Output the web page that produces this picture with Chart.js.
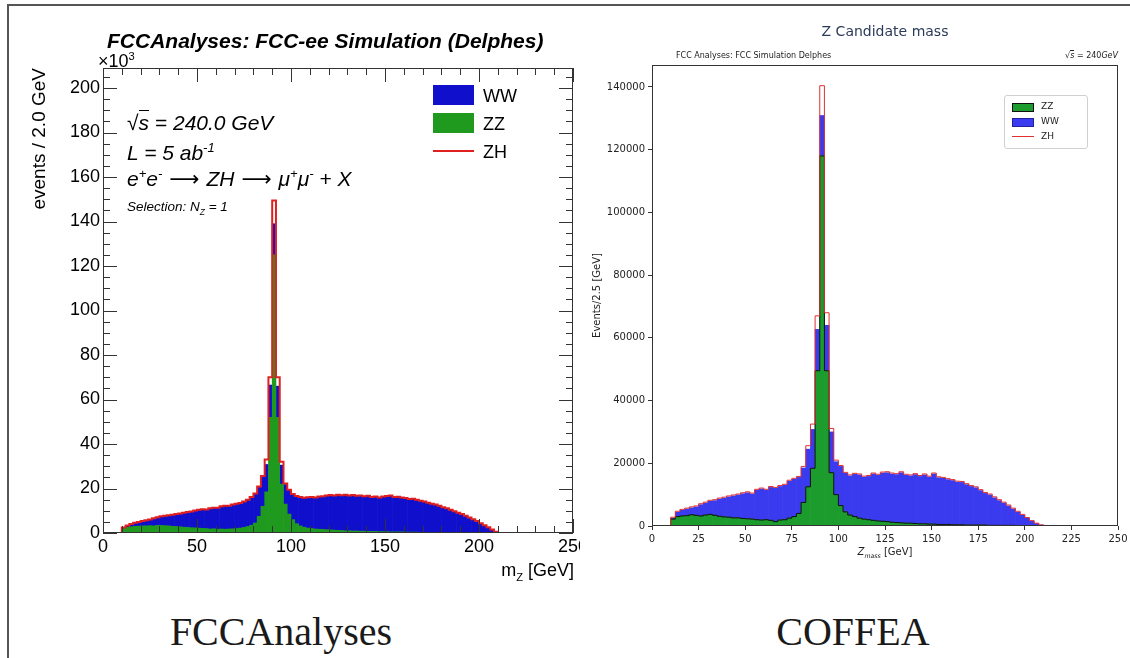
<!DOCTYPE html>
<html>
<head>
<meta charset="utf-8">
<title>Z candidate mass: FCCAnalyses vs COFFEA</title>
<script src="https://cdn.jsdelivr.net/npm/chart.js@4.4.1/dist/chart.umd.min.js"></script>
<style>
  html, body { margin: 0; padding: 0; background: #fff; }
  body { position: relative; width: 1130px; height: 658px; overflow: hidden; }
  .frame { position: absolute; left: 7px; top: 4px; width: 1140px; height: 670px;
           border-left: 2px solid #555; border-top: 2px solid #555; }
  canvas { position: absolute; top: 0; }
  #rootCanvas { left: 0; }
  #mplCanvas { left: 590px; }
  .t { position: absolute; white-space: nowrap; line-height: 1; }
  .root { font-family: 'Liberation Sans', Arial, sans-serif; color: #000; }
  .mpl { font-family: 'DejaVu Sans', sans-serif; color: #222; }
  .arr { font-family: 'DejaVu Sans', sans-serif; font-style: normal; margin: 0 7px; }
  .sw { position: absolute; }
  .cap { position: absolute; top: 610px; width: 400px; text-align: center;
         font-family: 'Liberation Serif', serif; font-size: 40px; line-height: 44px; color: #1a1a1a; }
  sup, sub { font-size: 62%; line-height: 0; }
</style>
</head>
<body>
<div class="frame"></div>
<canvas id="rootCanvas" width="580" height="600"></canvas>
<canvas id="mplCanvas" width="540" height="600"></canvas>

<!-- FCCAnalyses (ROOT) panel texts -->
<div class="t root" style="left:107px;top:30px;font-size:21px;font-weight:bold;font-style:italic">FCCAnalyses: FCC-ee Simulation (Delphes)</div>
<div class="t root" style="left:98px;top:52px;font-size:18px">&times;10<sup>3</sup></div>
<div class="t root" style="left:127px;top:112px;font-size:21px;font-style:italic">&radic;<span style="border-top:1.5px solid #000">s</span> = 240.0 GeV</div>
<div class="t root" style="left:127px;top:142px;font-size:21px;font-style:italic">L = 5 ab<sup>-1</sup></div>
<div class="t root" style="left:127px;top:168px;font-size:21px;font-style:italic">e<sup>+</sup>e<sup>-</sup><span class="arr">&#x27F6;</span>ZH<span class="arr">&#x27F6;</span>&mu;<sup>+</sup>&mu;<sup>-</sup>&nbsp;+ X</div>
<div class="t root" style="left:127px;top:200px;font-size:13.5px;font-style:italic">Selection: N<sub>Z</sub> = 1</div>
<div class="sw" style="left:433px;top:85px;width:41px;height:20px;background:#1010cc"></div>
<div class="t root" style="left:483px;top:87px;font-size:18px">WW</div>
<div class="sw" style="left:433px;top:113px;width:41px;height:20px;background:#1f9a1f"></div>
<div class="t root" style="left:483px;top:115px;font-size:18px">ZZ</div>
<div class="sw" style="left:433px;top:150px;width:41px;height:2px;background:#e02020"></div>
<div class="t root" style="left:483px;top:143px;font-size:18px">ZH</div>
<div class="t root" style="left:374px;width:200px;text-align:right;top:561px;font-size:18px">m<sub>Z</sub> [GeV]</div>

<!-- COFFEA (matplotlib) panel texts -->
<div class="t mpl" style="left:785px;width:200px;text-align:center;top:24px;font-size:14px;color:#2b3b58">Z Candidate mass</div>
<div class="t mpl" style="left:676px;top:52px;font-size:8px">FCC Analyses: FCC Simulation Delphes</div>
<div class="t mpl" style="left:1018px;width:100px;text-align:right;top:52px;font-size:8px"><i>&radic;<span style="border-top:1px solid #222">s</span></i> = 240<i>GeV</i></div>
<div class="sw" style="left:1004px;top:95px;width:82px;height:52px;border:1px solid #d0d0d0;border-radius:3px;background:rgba(255,255,255,0.8)"></div>
<div class="sw" style="left:1012px;top:103px;width:20px;height:7px;background:#1c9c2c;border:1px solid #111"></div>
<div class="t mpl" style="left:1041px;top:102px;font-size:9px">ZZ</div>
<div class="sw" style="left:1012px;top:118px;width:20px;height:7px;background:#3a3aef;border:1px solid #2222a0"></div>
<div class="t mpl" style="left:1041px;top:117px;font-size:9px">WW</div>
<div class="sw" style="left:1012px;top:136px;width:22px;height:1px;background:#e03030"></div>
<div class="t mpl" style="left:1041px;top:132px;font-size:9px">ZH</div>
<div class="t mpl" style="left:785px;width:200px;text-align:center;top:547px;font-size:10px"><i>Z<sub>mass</sub></i> [GeV]</div>

<div class="cap" style="left:81px">FCCAnalyses</div>
<div class="cap" style="left:653px">COFFEA</div>

<script>
// ---------- FCCAnalyses histogram: 2 GeV bins from 0 to 250 GeV, events in units of 10^3 ----------
const binWidthRoot = 2;
const rootXTicks = [0, 50, 100, 150, 200, 250];
const rootYTicks = [0, 20, 40, 60, 80, 100, 120, 140, 160, 180, 200];
const zzRoot = [
  0, 0, 0, 0, 0,
  2.0, 2.5, 2.8, 3.0, 3.1, 3.2, 3.2, 3.3, 3.2, 3.4,
  3.4, 3.3, 3.2, 3.0, 2.9, 2.8, 2.6, 2.5, 2.4, 2.3,
  2.2, 2.1, 2.0, 1.8, 1.9, 1.7, 1.8, 1.7, 1.8, 1.9,
  2.0, 2.2, 2.5, 2.9, 3.5, 4.5, 7.5, 12.0, 18.5, 52.0,
  125.0, 52.0, 22.0, 13.0, 8.5, 6.0, 4.2, 3.2, 2.6, 2.2,
  2.0, 1.8, 1.7, 1.6, 1.5, 1.4, 1.3, 1.2, 1.1, 1.0,
  1.0, 0.9, 0.9, 0.8, 0.8, 0.7, 0.7, 0.7, 0.6, 0.6,
  0.6, 0.5, 0.5, 0.5, 0.5, 0.4, 0.4, 0.4, 0.4, 0.3,
  0.3, 0.3, 0.3, 0.3, 0.3, 0.2, 0.2, 0.2, 0.2, 0.2,
  0.2, 0.2, 0.1, 0.1, 0.1, 0.1, 0.1, 0.1, 0.1, 0,
  0, 0, 0, 0, 0, 0, 0, 0, 0, 0,
  0, 0, 0, 0, 0, 0, 0, 0, 0, 0
];
const wwRoot = [
  0, 0, 0, 0, 0,
  0.3, 0.7, 1.0, 1.4, 1.7, 2.0, 2.3, 2.6, 3.2, 3.5,
  3.9, 4.3, 4.6, 5.0, 5.4, 5.8, 6.3, 6.7, 7.1, 7.6,
  8.0, 8.4, 8.4, 9.1, 9.2, 9.5, 10.0, 10.4, 10.2, 10.7,
  10.9, 11.1, 11.5, 11.9, 12.5, 13.0, 13.0, 13.0, 12.3, 14.5,
  14.0, 14.0, 8.5, 8.8, 10.7, 11.3, 12.2, 12.8, 13.0, 13.7,
  14.0, 13.9, 14.5, 14.7, 15.1, 15.5, 15.3, 15.8, 15.7, 16.0,
  15.7, 16.0, 15.6, 15.8, 15.5, 15.8, 15.3, 15.5, 15.2, 15.6,
  15.8, 16.1, 15.5, 15.6, 15.2, 15.1, 14.7, 14.8, 14.4, 14.0,
  13.7, 13.1, 12.6, 12.3, 11.7, 11.2, 10.7, 10.1, 9.4, 8.7,
  8.1, 7.4, 6.7, 5.9, 5.1, 4.2, 3.3, 2.4, 1.4, 0.5,
  0, 0, 0, 0, 0, 0, 0, 0, 0, 0,
  0, 0, 0, 0, 0, 0, 0, 0, 0, 0
];
const zhRoot = [
  0, 0, 0, 0, 0,
  0.2, 0.2, 0.2, 0.2, 0.2, 0.2, 0.2, 0.2, 0.2, 0.2,
  0.2, 0.2, 0.2, 0.2, 0.2, 0.2, 0.2, 0.2, 0.2, 0.2,
  0.2, 0.2, 0.2, 0.2, 0.2, 0.2, 0.2, 0.2, 0.2, 0.2,
  0.2, 0.2, 0.2, 0.2, 0.2, 0.2, 0.4, 0.6, 2.2, 3.5,
  10.5, 4.0, 1.5, 0.5, 0.2, 0.2, 0.2, 0.2, 0.2, 0.2,
  0.2, 0.2, 0.2, 0.2, 0.2, 0.2, 0.2, 0.2, 0.2, 0.2,
  0.2, 0.2, 0.2, 0.2, 0.2, 0.2, 0.2, 0.2, 0.2, 0.2,
  0.2, 0.2, 0.2, 0.2, 0.2, 0.2, 0.2, 0.2, 0.2, 0.2,
  0.2, 0.2, 0.2, 0.2, 0.2, 0.2, 0.2, 0.2, 0.2, 0.2,
  0.2, 0.2, 0.2, 0.2, 0.2, 0.1, 0.1, 0.1, 0.1, 0.1,
  0, 0, 0, 0, 0, 0, 0, 0, 0, 0,
  0, 0, 0, 0, 0, 0, 0, 0, 0, 0
];

// ---------- COFFEA histogram: 2.5 GeV bins from 0 to 250 GeV, raw events ----------
const binWidthCoffea = 2.5;
const coffeaXTicks = [0, 25, 50, 75, 100, 125, 150, 175, 200, 225, 250];
const coffeaYTicks = [0, 20000, 40000, 60000, 80000, 100000, 120000, 140000];
const zzCoffea = [
  0, 0, 0, 0,
  2200, 3000, 3200, 3300, 3600, 3400, 3200, 3500, 3700, 3400,
  3100, 2900, 2800, 2600, 2600, 2400, 2300, 2200, 2000, 1900,
  2000, 1800, 1400, 1900, 2000, 2500, 3000, 4000, 7500, 12500,
  18400, 49500, 118000, 49500, 17000, 10000, 6500, 4500, 3500, 3000,
  2500, 2200, 2000, 1800, 1600, 1500, 1400, 1200, 1100, 1000,
  900, 900, 800, 700, 700, 600, 600, 500, 500, 500,
  400, 400, 400, 300, 300, 300, 300, 300, 200, 200,
  200, 200, 200, 200, 100, 100, 100, 100, 100, 50,
  0, 0, 0, 0, 0, 0, 0, 0, 0, 0, 0, 0, 0, 0, 0, 0
];
const wwCoffea = [
  0, 0, 0, 0,
  300, 1400, 1800, 2100, 2200, 2700, 3600, 3800, 4200, 4700,
  5500, 6000, 6500, 7000, 7300, 7900, 8300, 8000, 9400, 9900,
  9400, 10500, 10600, 10700, 11000, 11800, 11900, 11500, 11000, 12000,
  12400, 13200, 12900, 14500, 13000, 10500, 12500, 12300, 12500, 13500,
  13800, 13400, 13800, 14800, 14600, 15400, 15600, 15400, 15300, 16000,
  15300, 15100, 15600, 15100, 15600, 15000, 16000, 14900, 14700, 14300,
  14100, 13600, 13500, 12900, 12300, 11900, 11000, 10100, 9700, 8800,
  7900, 7100, 6200, 5200, 4300, 3300, 2400, 1500, 700, 250,
  100, 50, 0, 0, 0, 0, 0, 0, 0, 0, 0, 0, 0, 0, 0, 0
];
const zhCoffea = [
  0, 0, 0, 0,
  300, 300, 300, 300, 300, 300, 300, 300, 300, 300,
  300, 300, 300, 300, 300, 300, 300, 300, 300, 300,
  300, 300, 300, 300, 300, 300, 300, 300, 500, 1100,
  1700, 4300, 9500, 4000, 1100, 500, 300, 300, 300, 300,
  300, 300, 300, 300, 300, 300, 300, 300, 300, 300,
  300, 300, 300, 300, 300, 300, 300, 300, 300, 300,
  300, 300, 300, 300, 300, 300, 300, 300, 300, 300,
  300, 300, 300, 300, 300, 300, 200, 100, 100, 50,
  0, 0, 0, 0, 0, 0, 0, 0, 0, 0, 0, 0, 0, 0, 0, 0
];

// bars sit on bin centres, step lines on bin edges
function barPoints(values, width) {
  return values.map((v, i) => ({ x: (i + 0.5) * width, y: v }));
}
function stepPoints(values, width) {
  const pts = values.map((v, i) => ({ x: i * width, y: v }));
  pts.push({ x: values.length * width, y: values[values.length - 1] });
  return pts;
}
function addUp(...series) {
  return series[0].map((_, i) => series.reduce((s, a) => s + a[i], 0));
}
const fixedTicks = list => scale => { scale.ticks = list.map(v => ({ value: v })); };

// frame around the plot area (both panels draw a closed box)
const frameBox = {
  id: 'frameBox',
  afterDatasetsDraw(chart, args, opts) {
    const { ctx, chartArea: a } = chart;
    ctx.save();
    ctx.strokeStyle = opts.color;
    ctx.lineWidth = opts.width;
    ctx.strokeRect(Math.round(a.left) + 0.5, Math.round(a.top) + 0.5,
                   Math.round(a.right - a.left) - 1, Math.round(a.bottom - a.top) - 1);
    ctx.restore();
  }
};

// ROOT style ticks pointing into the frame on all four sides
const innerTicks = {
  id: 'innerTicks',
  afterDatasetsDraw(chart, args, opts) {
    if (!opts.enabled) return;
    const { ctx, chartArea: a, scales: { x, y } } = chart;
    ctx.save();
    ctx.strokeStyle = opts.color;
    ctx.lineWidth = 1;
    ctx.beginPath();
    for (let v = x.min; v <= x.max + 1e-6; v += opts.xMinor) {
      const px = Math.round(x.getPixelForValue(v)) + 0.5;
      const len = v % opts.xMajor === 0 ? opts.major : opts.minor;
      ctx.moveTo(px, a.bottom); ctx.lineTo(px, a.bottom - len);
      ctx.moveTo(px, a.top); ctx.lineTo(px, a.top + len);
    }
    for (let v = y.min; v <= y.max + 1e-6; v += opts.yMinor) {
      const py = Math.round(y.getPixelForValue(v)) + 0.5;
      const len = v % opts.yMajor === 0 ? opts.major : opts.minor;
      ctx.moveTo(a.left, py); ctx.lineTo(a.left + len, py);
      ctx.moveTo(a.right, py); ctx.lineTo(a.right - len, py);
    }
    ctx.stroke();
    ctx.restore();
  }
};

const rootFont = 'Liberation Sans';
new Chart(document.getElementById('rootCanvas'), {
  type: 'bar',
  data: {
    datasets: [
      {
        type: 'line', label: 'ZH', stack: 'zhLine',
        data: stepPoints(addUp(zzRoot, wwRoot, zhRoot), binWidthRoot),
        stepped: true, borderColor: '#e02020', borderWidth: 2, pointRadius: 0, fill: false
      },
      {
        label: 'ZZ', stack: 'bkg', data: barPoints(zzRoot, binWidthRoot),
        backgroundColor: '#1f9a1f', borderWidth: 0, barPercentage: 1, categoryPercentage: 1
      },
      {
        label: 'WW', stack: 'bkg', data: barPoints(wwRoot, binWidthRoot),
        backgroundColor: '#1010cc', borderWidth: 0, barPercentage: 1, categoryPercentage: 1
      }
    ]
  },
  options: {
    responsive: false,
    animation: false,
    layout: { padding: { left: 0, right: 7, top: 68, bottom: 0 } },
    plugins: {
      legend: { display: false },
      tooltip: { enabled: false },
      frameBox: { color: '#333', width: 1 },
      innerTicks: { enabled: true, color: '#333', xMinor: 10, xMajor: 50, yMinor: 5, yMajor: 20, major: 14, minor: 7 }
    },
    scales: {
      x: {
        type: 'linear', min: 0, max: 250, stacked: true, offset: false,
        grid: { display: false, drawTicks: false, offset: false },
        border: { display: false },
        afterBuildTicks: fixedTicks(rootXTicks),
        ticks: { padding: 3, maxRotation: 0, autoSkip: false, color: '#000',
                 callback: v => String(v), font: { family: rootFont, size: 18 } },
        afterFit: s => { s.height = 67; s.paddingLeft = 0; s.paddingRight = 0; }
      },
      y: {
        min: 0, max: 209, stacked: true,
        grid: { display: false, drawTicks: false },
        border: { display: false },
        afterBuildTicks: fixedTicks(rootYTicks),
        ticks: { padding: 3, color: '#000', callback: v => String(v),
                 font: { family: rootFont, size: 18 } },
        title: { display: true, text: 'events / 2.0 GeV', align: 'end', color: '#000',
                 padding: { top: 28, bottom: 0 }, font: { family: rootFont, size: 19 } },
        afterFit: s => { s.width = 103; s.paddingTop = 0; s.paddingBottom = 0; }
      }
    }
  },
  plugins: [frameBox, innerTicks]
});

const mplFont = 'DejaVu Sans';
new Chart(document.getElementById('mplCanvas'), {
  type: 'bar',
  data: {
    datasets: [
      {
        type: 'line', label: 'ZH', stack: 'zhLine',
        data: stepPoints(addUp(zzCoffea, wwCoffea, zhCoffea), binWidthCoffea),
        stepped: true, borderColor: '#e03030', borderWidth: 1, pointRadius: 0, fill: false
      },
      {
        type: 'line', label: 'ZZ edge', stack: 'zzLine',
        data: stepPoints(zzCoffea, binWidthCoffea),
        stepped: true, borderColor: '#111', borderWidth: 1, pointRadius: 0, fill: false
      },
      {
        label: 'ZZ', stack: 'bkg', data: barPoints(zzCoffea, binWidthCoffea),
        backgroundColor: '#1c9c2c', borderWidth: 0, barPercentage: 1, categoryPercentage: 1
      },
      {
        label: 'WW', stack: 'bkg', data: barPoints(wwCoffea, binWidthCoffea),
        backgroundColor: '#3a3aef', borderWidth: 0, barPercentage: 1, categoryPercentage: 1
      }
    ]
  },
  options: {
    responsive: false,
    animation: false,
    layout: { padding: { left: 0, right: 12, top: 65, bottom: 0 } },
    plugins: {
      legend: { display: false },
      tooltip: { enabled: false },
      frameBox: { color: '#333', width: 1 },
      innerTicks: { enabled: false }
    },
    scales: {
      x: {
        type: 'linear', min: 0, max: 250, stacked: true, offset: false,
        grid: { display: true, drawOnChartArea: false, drawTicks: true, tickLength: 4,
                color: '#333', lineWidth: 1, offset: false },
        border: { display: false },
        afterBuildTicks: fixedTicks(coffeaXTicks),
        ticks: { padding: 3, maxRotation: 0, autoSkip: false, color: '#222',
                 callback: v => String(v), font: { family: mplFont, size: 10 } },
        afterFit: s => { s.height = 74; s.paddingLeft = 0; s.paddingRight = 0; }
      },
      y: {
        min: 0, max: 147000, stacked: true,
        grid: { display: true, drawOnChartArea: false, drawTicks: true, tickLength: 4,
                color: '#333', lineWidth: 1 },
        border: { display: false },
        afterBuildTicks: fixedTicks(coffeaYTicks),
        ticks: { padding: 3, color: '#222', callback: v => String(v),
                 font: { family: mplFont, size: 10 } },
        title: { display: true, text: 'Events/2.5 [GeV]', align: 'center', color: '#222',
                 padding: { top: 1, bottom: 0 }, font: { family: mplFont, size: 10 } },
        afterFit: s => { s.width = 62; s.paddingTop = 0; s.paddingBottom = 0; }
      }
    }
  },
  plugins: [frameBox, innerTicks]
});
</script>
</body>
</html>
